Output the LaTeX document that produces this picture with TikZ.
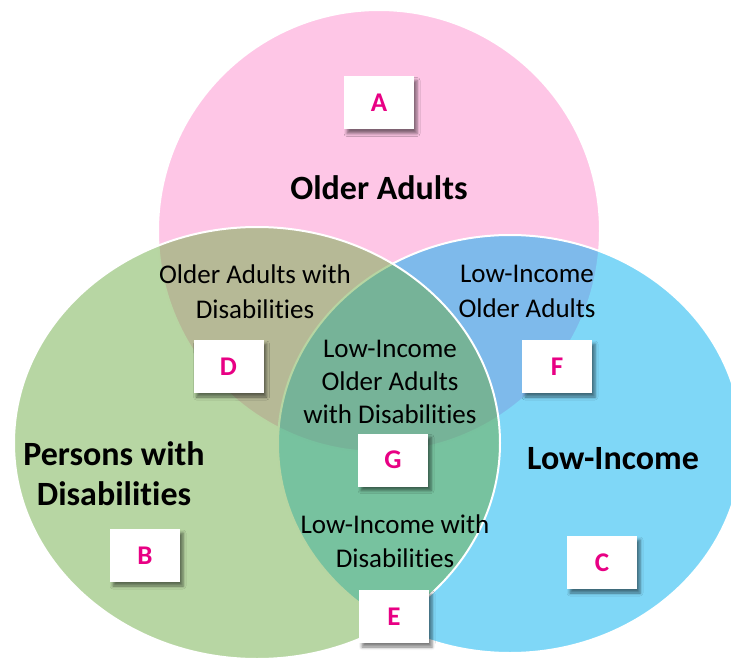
\documentclass[tikz,border=0pt]{standalone}
\usepackage{fontspec}
\setmainfont{Carlito}[Ligatures={NoCommon,NoContextual}]
\usetikzlibrary{shadows.blur}

\definecolor{pinkset}{RGB}{254,198,230}
\definecolor{blueset}{RGB}{0,176,240}
\definecolor{greenset}{RGB}{112,173,71}
\definecolor{lettermag}{RGB}{232,0,132}

\tikzset{
  setshape/.style={draw=white, line width=2pt},
  tagbox/.style={fill=white, minimum width=70pt, minimum height=53pt, inner sep=0pt,
    font=\fontsize{27}{30}\selectfont\bfseries, text=lettermag,
    blur shadow={shadow xshift=3pt, shadow yshift=-4pt, shadow blur radius=3pt, shadow opacity=50}},
  setname/.style={font=\fontsize{34}{40}\selectfont\bfseries, align=center, anchor=base},
  overlap/.style={font=\fontsize{27}{35}\selectfont, align=center, anchor=base},
}

\begin{document}
\begin{tikzpicture}[x=1pt, y=-1pt]
  \useasboundingbox (0,0) rectangle (731,658);
  \clip (0,0) rectangle (731,658);

  % the three sets
  \draw[setshape, fill=pinkset] (379,231) ellipse [x radius=221pt, y radius=221pt];
  \draw[setshape, fill=blueset, fill opacity=0.5] (510,444) ellipse [x radius=232pt, y radius=209pt];
  \draw[setshape, fill=greenset, fill opacity=0.5] (257,443) ellipse [x radius=243pt, y radius=216pt];

  % set names
  \node[setname] (older) at (379,199) {Older Adults};
  \node[setname] (disab) at (114,505) {Persons with\\[0pt]Disabilities};
  \node[setname] (income) at (613,469) {Low-Income};

  % overlap descriptions
  \node[overlap] (olddis) at (255,318) {Older Adults with\\Disabilities};
  \node[overlap] (lowold) at (527,317) {Low-Income\\Older Adults};
  \node[overlap, font=\fontsize{27}{33}\selectfont] (all) at (390,423) {Low-Income\\Older Adults\\with Disabilities};
  \node[overlap, font=\fontsize{27}{34}\selectfont] (lowdis) at (395,567) {Low-Income with\\Disabilities};

  % region tags
  \node[tagbox] (A) at (379,103) {A};
  \node[tagbox] (B) at (145,555.5) {B};
  \node[tagbox] (C) at (602,562.5) {C};
  \node[tagbox] (D) at (228.5,366.5) {D};
  \node[tagbox] (E) at (394,616.5) {E};
  \node[tagbox] (F) at (557,366.5) {F};
  \node[tagbox] (G) at (393,460) {G};
\end{tikzpicture}
\end{document}
